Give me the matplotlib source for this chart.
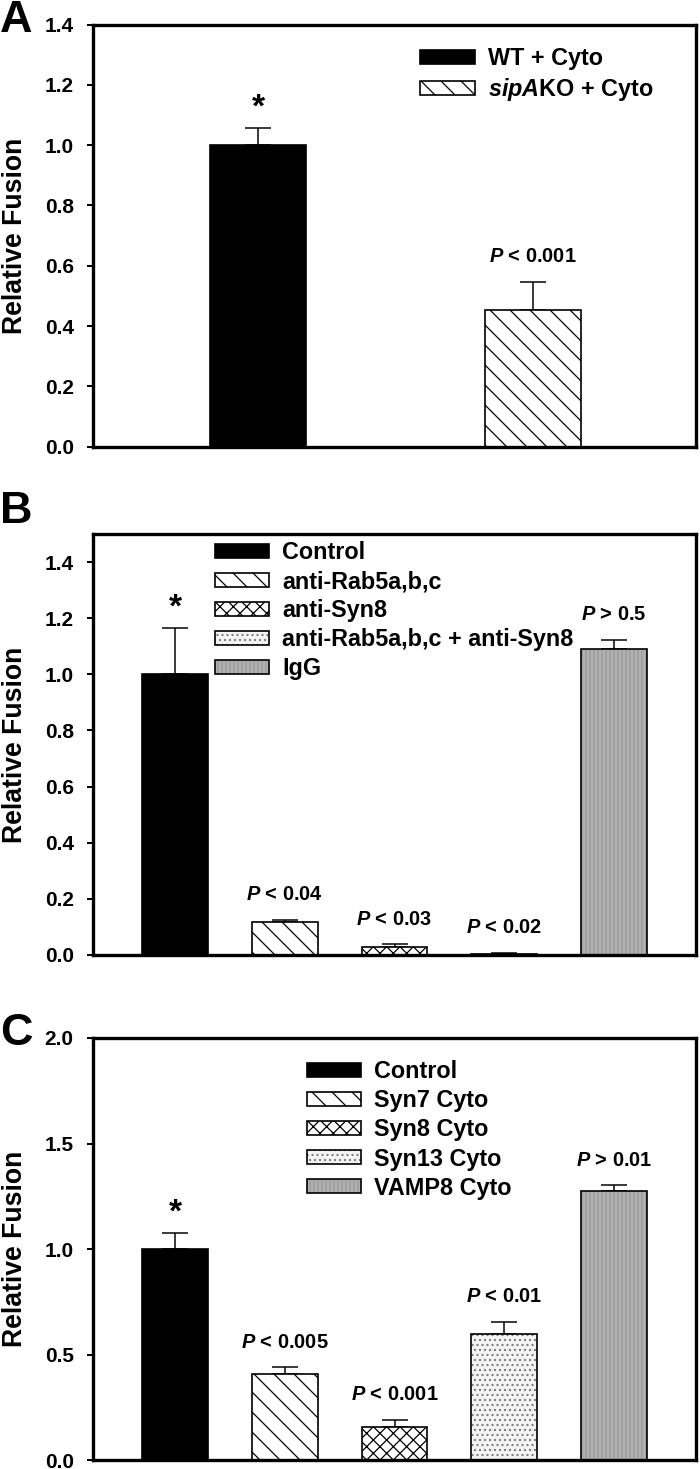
import numpy as np
import matplotlib
matplotlib.use("Agg")
import matplotlib.pyplot as plt

plt.rcParams["font.family"] = ["Liberation Sans", "DejaVu Sans"]
plt.rcParams["font.weight"] = "bold"
plt.rcParams["axes.labelweight"] = "bold"
plt.rcParams["mathtext.fontset"] = "custom"
plt.rcParams["mathtext.rm"] = "Liberation Sans:bold"
plt.rcParams["mathtext.it"] = "Liberation Sans:italic:bold"
plt.rcParams["mathtext.bf"] = "Liberation Sans:bold"
plt.rcParams["hatch.linewidth"] = 0.75

# panel A
a_groups = ["WT + Cyto", "$\\mathit{sipA}$KO + Cyto"]
a_values = [1.0, 0.455]
a_err = [0.058, 0.092]
a_notes = ["*", "$\\mathit{P}$ < 0.001"]

# panel B
b_groups = ["Control", "anti-Rab5a,b,c", "anti-Syn8",
            "anti-Rab5a,b,c + anti-Syn8", "IgG"]
b_values = [1.0, 0.118, 0.03, 0.005, 1.09]
b_err = [0.165, 0.008, 0.009, 0.003, 0.034]
b_notes = ["*", "$\\mathit{P}$ < 0.04", "$\\mathit{P}$ < 0.03",
           "$\\mathit{P}$ < 0.02", "$\\mathit{P}$ > 0.5"]

# panel C
c_groups = ["Control", "Syn7 Cyto", "Syn8 Cyto", "Syn13 Cyto", "VAMP8 Cyto"]
c_values = [1.0, 0.41, 0.157, 0.597, 1.277]
c_err = [0.076, 0.03, 0.033, 0.058, 0.025]
c_notes = ["*", "$\\mathit{P}$ < 0.005", "$\\mathit{P}$ < 0.001",
           "$\\mathit{P}$ < 0.01", "$\\mathit{P}$ > 0.01"]

# fill style: (face, hatch, hatch colour)
solid = ("black", None, "black")
diag = ("white", "\\\\", "black")
cross = ("white", "xxx", "black")
dots = ("#f4f4f4", "....", "#7a7a7a")
grey = ("#b0b0b0", "|||||", "#9a9a9a")


def draw_panel(ax, groups, values, err, notes, styles, width, xlim, ylim,
               yticks, leg_anchor):
    x = np.arange(len(values))
    ax.errorbar(x, values, yerr=[np.zeros(len(err)), err], fmt="none",
                ecolor="black", elinewidth=0.9, capsize=8, capthick=0.9,
                zorder=1)
    handles = []
    for i in range(len(values)):
        face, hatch, hcol = styles[i]
        fill = ax.bar(x[i], values[i], width, color=face, hatch=hatch,
                      edgecolor=hcol, linewidth=0, zorder=2)
        edge = ax.bar(x[i], values[i], width, fill=False, edgecolor="black",
                      linewidth=1.0, zorder=3)
        handles.append((fill[0], edge[0]))
    for i, note in enumerate(notes):
        big = note == "*"
        ax.annotate(note, (x[i], values[i] + err[i]),
                    xytext=(0, 12 if big else 15), textcoords="offset points",
                    ha="center", va="center", fontsize=20 if big else 12)
    ax.set_xlim(*xlim)
    ax.set_ylim(*ylim)
    ax.set_xticks([])
    ax.set_yticks(yticks)
    ax.set_yticklabels([f"{t:.1f}" for t in yticks])
    ax.tick_params(axis="y", labelsize=12.5, width=1.2, length=3.6, pad=8)
    for s in ax.spines.values():
        s.set_linewidth(2)
    ax.set_ylabel("Relative Fusion", fontsize=16)
    ax.yaxis.set_label_coords(-0.108, 0.5)
    fig.legend(handles, groups, loc="upper left", bbox_to_anchor=leg_anchor,
               frameon=False, fontsize=14, borderpad=0, borderaxespad=0,
               handlelength=2.35, handleheight=0.55, handletextpad=0.55,
               labelspacing=0.26)


fig = plt.figure(figsize=(700 / 120, 1469 / 120), dpi=120)
axA = fig.add_axes([0.1329, 0.6959, 0.8614, 0.2874])
axB = fig.add_axes([0.1329, 0.3499, 0.8614, 0.2866])
axC = fig.add_axes([0.1329, 0.0061, 0.8614, 0.2873])

draw_panel(axA, a_groups, a_values, a_err, a_notes, [solid, diag], 0.35,
           (-0.602, 1.595), (0, 1.4), np.arange(0, 1.41, 0.2), (0.6, 0.968))
draw_panel(axB, b_groups, b_values, b_err, b_notes,
           [solid, diag, cross, dots, grey], 0.6,
           (-0.75, 4.75), (0, 1.5), np.arange(0, 1.41, 0.2), (0.3066, 0.6317))
draw_panel(axC, c_groups, c_values, c_err, c_notes,
           [solid, diag, cross, dots, grey], 0.6,
           (-0.75, 4.75), (0, 2.0), np.arange(0, 2.01, 0.5), (0.438, 0.2782))

fig.text(0.0, 0.9784, "A", fontsize=27, ha="left", va="baseline")
fig.text(0.0, 0.6438, "B", fontsize=27, ha="left", va="baseline")
fig.text(0.0, 0.2886, "C", fontsize=27, ha="left", va="baseline")

fig.savefig("out.png", dpi=120)
